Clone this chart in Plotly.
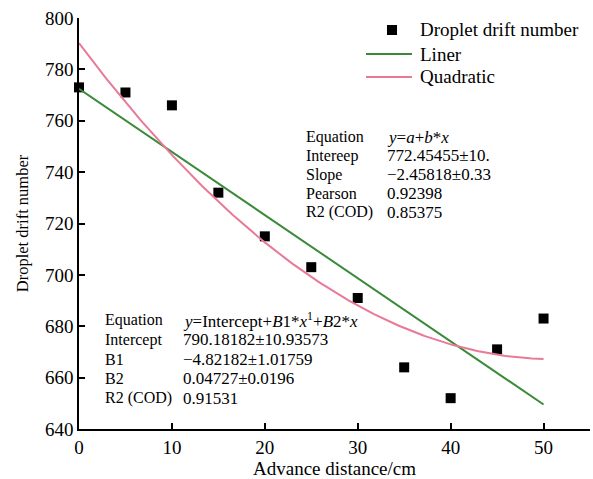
import numpy as np
import plotly.graph_objects as go

# Measured droplet drift counts vs. advance distance
distance_cm = [0, 5, 10, 15, 20, 25, 30, 35, 40, 45, 50]
drift_number = [773, 771, 766, 732, 715, 703, 691, 664, 652, 671, 683]

# Fit coefficients
lin_a, lin_b = 772.45455, -2.45818
quad_c, quad_b1, quad_b2 = 790.18182, -4.82182, 0.04727

x_fit = np.linspace(0, 50, 201)
y_lin = lin_a + lin_b * x_fit
y_quad = quad_c + quad_b1 * x_fit + quad_b2 * x_fit ** 2

FONT = "Liberation Serif"
GREEN = "rgb(58,138,58)"
PINK = "rgb(232,122,152)"

# plot-area geometry in pixels (used to place legend and tables)
L, T, W, H = 79, 18, 511, 411


def px_to_paper(xpx, ypx):
    return (xpx - L) / W, 1 - (ypx - T) / H


fig = go.Figure()
fig.add_trace(go.Scatter(
    x=distance_cm, y=drift_number, mode="markers", name="Droplet drift number",
    marker=dict(symbol="square", size=10, color="black"), cliponaxis=False,
    showlegend=False))
fig.add_trace(go.Scatter(
    x=x_fit, y=y_lin, mode="lines", name="Liner",
    line=dict(color=GREEN, width=2), showlegend=False))
fig.add_trace(go.Scatter(
    x=x_fit, y=y_quad, mode="lines", name="Quadratic",
    line=dict(color=PINK, width=2), showlegend=False))

axis_common = dict(
    showline=True, linecolor="black", linewidth=1.5, mirror=False,
    ticks="inside", ticklen=6, tickwidth=1.5, tickcolor="black",
    showgrid=False, zeroline=False,
    tickfont=dict(family=FONT, size=19, color="black"),
)

fig.update_xaxes(range=[0, 55], tickvals=[0, 10, 20, 30, 40, 50],
                 title=dict(text="Advance distance/cm", font=dict(family=FONT, size=19, color="black"), standoff=2),
                 **axis_common)
fig.update_yaxes(range=[640, 800], tickvals=list(range(640, 801, 20)),
                 title=dict(text="Droplet drift number", font=dict(family=FONT, size=16.5, color="black"), standoff=12),
                 **axis_common)

# Legend, drawn by hand so the line samples are full length
legend_items = [("marker", "black", "Droplet drift number", 30),
                ("line", GREEN, "Liner", 54),
                ("line", PINK, "Quadratic", 77)]
for kind, color, label, ypx in legend_items:
    if kind == "marker":
        x0, y0 = px_to_paper(387, ypx + 5)
        x1, y1 = px_to_paper(397, ypx - 5)
        fig.add_shape(type="rect", xref="paper", yref="paper", x0=x0, y0=y0, x1=x1, y1=y1,
                      fillcolor=color, line=dict(width=0))
    else:
        x0, yy = px_to_paper(366, ypx)
        x1, _ = px_to_paper(412, ypx)
        fig.add_shape(type="line", xref="paper", yref="paper", x0=x0, y0=yy, x1=x1, y1=yy,
                      line=dict(color=color, width=2))
    tx, ty = px_to_paper(418, ypx)
    fig.add_annotation(xref="paper", yref="paper", x=tx, y=ty, xanchor="left", yanchor="middle",
                       showarrow=False, text=label, font=dict(family=FONT, size=19, color="black"))

# Fit statistic tables
upper_rows = [
    ("Equation", "<i>y</i>=<i>a</i>+<i>b</i>*<i>x</i>"),
    ("Intereep", "772.45455±10."),
    ("Slope", "−2.45818±0.33"),
    ("Pearson", "0.92398"),
    ("R2 (COD)", "0.85375"),
]
lower_rows = [
    ("Equation", "<i>y</i>=Intercept+<i>B</i>1*<i>x</i><sup>1</sup>+<i>B</i>2*<i>x</i>"),
    ("Intercept", "790.18182±10.93573"),
    ("B1", "−4.82182±1.01759"),
    ("B2", "0.04727±0.0196"),
    ("R2 (COD)", "0.91531"),
]


def add_table(rows, x0_px, x1_px, y0_px, dy_px):
    for i, (k, v) in enumerate(rows):
        ypx = y0_px + i * dy_px
        for xpx, txt, size in ((x0_px, k, 16), (x1_px, v, 17)):
            ax, ay = px_to_paper(xpx, ypx)
            fig.add_annotation(
                xref="paper", yref="paper", x=ax, y=ay,
                xanchor="left", yanchor="middle", showarrow=False,
                text=txt, font=dict(family=FONT, size=size, color="black"))


add_table(upper_rows, 304, 385, 137, 18.8)
add_table(lower_rows, 103, 181, 320, 19.5)

fig.update_layout(
    width=593, height=479,
    margin=dict(l=L, r=593 - L - W, t=T, b=479 - T - H),
    paper_bgcolor="white", plot_bgcolor="white",
    font=dict(family=FONT, color="black"),
    showlegend=False,
)

fig.write_html("out.html")
